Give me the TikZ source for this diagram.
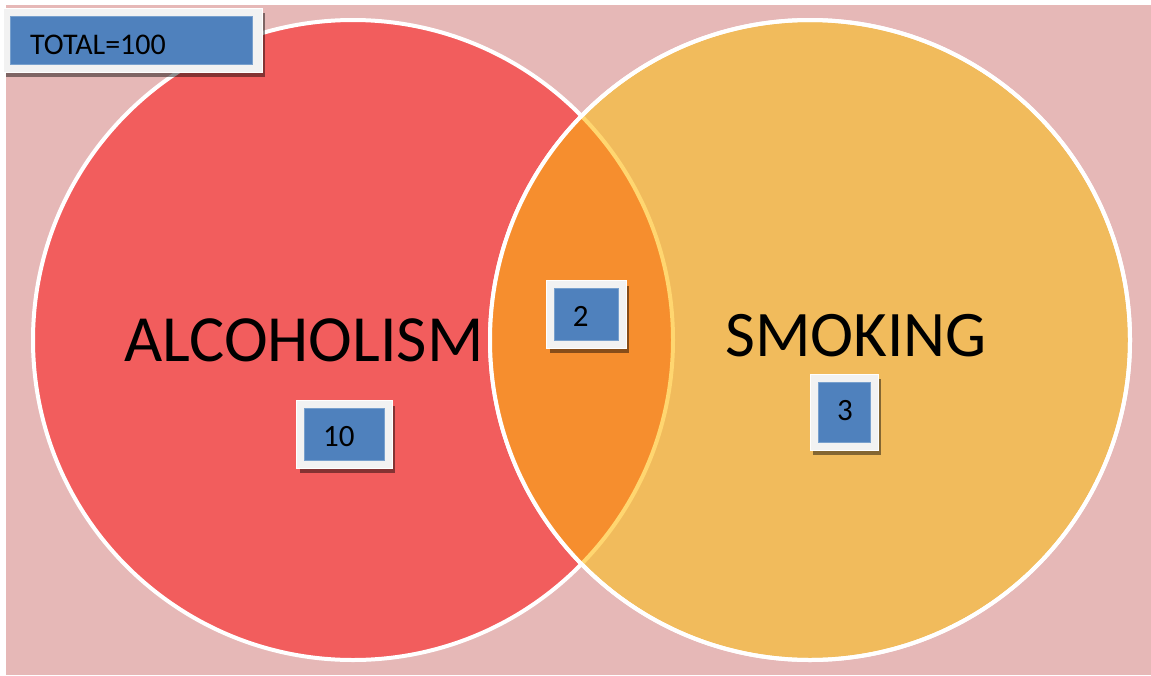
\documentclass[tikz,border=0pt]{standalone}
\usepackage{fontspec}
\setmainfont{Carlito}
\usetikzlibrary{shadows}
\definecolor{bgpink}{RGB}{230,184,183}
\definecolor{alcred}{RGB}{242,93,93}
\definecolor{smkyel}{RGB}{241,187,92}
\definecolor{lensorange}{RGB}{246,142,46}
\definecolor{paleyel}{RGB}{255,214,112}
\definecolor{boxblue}{RGB}{79,129,189}
\definecolor{frameg}{RGB}{242,242,242}
\tikzset{
  framebox/.style={draw=white, line width=0.8pt, fill=frameg, inner sep=0pt,
    drop shadow={shadow xshift=3pt, shadow yshift=-5pt, opacity=0.45, fill=black}},
  bluebox/.style={draw={rgb,255:red,120;green,160;blue,205}, line width=0.6pt, fill=boxblue, inner sep=0pt},
  numtext/.style={inner sep=0pt, anchor=base, font=\fontsize{31}{32}\selectfont, text=black},
  bigtext/.style={inner sep=0pt, anchor=base, text=black},
  ring/.style={draw=white, line width=4pt}
}
\begin{document}
\begin{tikzpicture}[x=1pt,y=-1pt]
\useasboundingbox (0,0) rectangle (1151,675);
\fill[white] (0,0) rectangle (1151,675);
\fill[bgpink] (6,5) rectangle (1151,675);
\coordinate (cl) at (353,340);
\coordinate (cr) at (810,340);
% left circle
\fill[alcred] (cl) circle (320pt);
\draw[ring] (cl) circle (320pt);
% right circle
\fill[smkyel] (cr) circle (320pt);
\draw[ring] (cr) circle (320pt);
% lens
\begin{scope}
  \clip (cr) circle (320pt);
  \fill[lensorange] (cl) circle (320pt);
  \draw[draw=paleyel, line width=4pt] (cl) circle (320pt);
\end{scope}
\draw[ring] (cr) circle (320pt);
% labels
\node[bigtext, font=\fontsize{66}{70}\selectfont] (alc) at (304,361.7) {ALCOHOLISM};
\node[bigtext, font=\fontsize{65}{70}\selectfont] (smk) at (856,356.7) {SMOKING};
% TOTAL box
\node[framebox, minimum width=259pt, minimum height=64pt] (ftot) at (132.5,40) {};
\node[bluebox, minimum width=242pt, minimum height=48pt] (btot) at (131,40) {};
\node[numtext, anchor=base west, font=\fontsize{30}{32}\selectfont] (ttot) at (30,54) {TOTAL=100};
% box 2
\node[framebox, minimum width=79.3pt, minimum height=67.3pt] (f2) at (586.35,314.35) {};
\node[bluebox, minimum width=64pt, minimum height=52.7pt] (b2) at (586,314.35) {};
\node[numtext] (t2) at (580.7,326.7) {2};
% box 10
\node[framebox, minimum width=95.3pt, minimum height=67.3pt] (f10) at (344.35,434.35) {};
\node[bluebox, minimum width=80pt, minimum height=52.7pt] (b10) at (344,434.35) {};
\node[numtext] (t10) at (338.8,446.7) {10};
% box 3
\node[framebox, minimum width=68pt, minimum height=76pt] (f3) at (844,412) {};
\node[bluebox, minimum width=52pt, minimum height=60pt] (b3) at (844,412) {};
\node[numtext] (t3) at (845,420.7) {3};
\end{tikzpicture}
\end{document}
